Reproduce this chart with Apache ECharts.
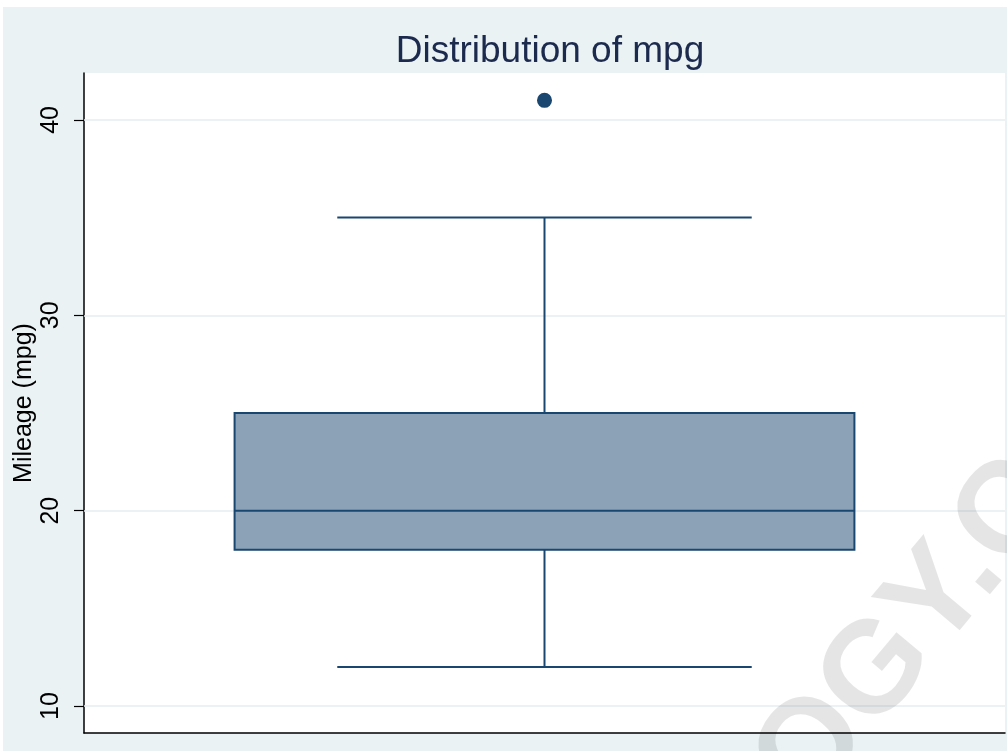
<!DOCTYPE html>
<html>
<head>
<meta charset="utf-8">
<script src="https://cdn.jsdelivr.net/npm/echarts@6/dist/echarts.min.js"></script>
<style>
  html, body { margin: 0; padding: 0; background: #ffffff; }
  #main { width: 1007px; height: 751px; }
</style>
</head>
<body>
<div id="main"></div>
<script>
// box plot summary
var categories = ['mpg'];
var whiskerLow = [12];
var q1 = [18];
var median = [20];
var q3 = [25];
var whiskerHigh = [35];
var outliers = [[0, 41]];
var yTicks = [10, 20, 30, 40];

var navy = '#1a476f';
var boxFill = '#8ca2b7';
var gridColor = '#e6eef1';

var boxData = categories.map(function (c, i) {
    return [i, whiskerLow[i], q1[i], median[i], q3[i], whiskerHigh[i]];
});

function renderBox(params, api) {
    var i = api.value(0);
    var band = api.size([1, 0])[0];
    var lo = api.coord([i, api.value(1)]);
    var b = api.coord([i, api.value(2)]);
    var m = api.coord([i, api.value(3)]);
    var t = api.coord([i, api.value(4)]);
    var hi = api.coord([i, api.value(5)]);
    var x = lo[0];
    var bw = band * 0.673;   // box width
    var cw = band * 0.45;    // whisker cap width
    var ls = { stroke: navy, lineWidth: 2 };
    return {
        type: 'group',
        children: [
            { type: 'line', shape: { x1: x, y1: hi[1], x2: x, y2: t[1] }, style: ls },
            { type: 'line', shape: { x1: x, y1: b[1], x2: x, y2: lo[1] }, style: ls },
            { type: 'line', shape: { x1: x - cw / 2, y1: hi[1], x2: x + cw / 2, y2: hi[1] }, style: ls },
            { type: 'line', shape: { x1: x - cw / 2, y1: lo[1], x2: x + cw / 2, y2: lo[1] }, style: ls },
            { type: 'rect', shape: { x: x - bw / 2, y: t[1], width: bw, height: b[1] - t[1] },
              style: { fill: boxFill, stroke: navy, lineWidth: 2 } },
            { type: 'line', shape: { x1: x - bw / 2, y1: m[1], x2: x + bw / 2, y2: m[1] }, style: ls }
        ]
    };
}

var myChart = echarts.init(document.getElementById('main'));

var option = {
    animation: false,
    backgroundColor: '#ffffff',
    textStyle: { fontFamily: 'Liberation Sans, Arial, sans-serif' },
    title: {
        text: 'Distribution of mpg',
        left: 545,
        textAlign: 'center',
        top: 28,
        textStyle: { fontSize: 37, fontWeight: 'normal', color: '#1c2a4e', fontFamily: 'Liberation Sans' }
    },
    graphic: [
        {
            type: 'rect', z: -10, silent: true,
            shape: { x: 3, y: 7, width: 1004, height: 744 },
            style: { fill: '#eaf2f3' }
        },
        {
            // faint watermark over the lower right corner
            type: 'text', z: 100, silent: true,
            x: 830, y: 830,
            rotation: 50 * Math.PI / 180,
            style: {
                text: 'OGY.C',
                fontSize: 130,
                fontWeight: 'bold',
                fontFamily: 'Liberation Sans',
                fill: 'rgba(0,0,0,0.1)',
                align: 'left',
                verticalAlign: 'bottom'
            }
        }
    ],
    grid: {
        show: true,
        left: 84, right: 2, top: 73, bottom: 18,
        outerBoundsMode: 'none',
        containLabel: false,
        backgroundColor: '#ffffff',
        borderWidth: 0
    },
    xAxis: {
        type: 'category',
        data: categories,
        axisLine: { lineStyle: { color: '#000000', width: 1.5 } },
        axisTick: { show: false },
        axisLabel: { show: false },
        splitLine: { show: false }
    },
    yAxis: {
        type: 'value',
        min: 8.62,
        max: 42.4,
        name: 'Mileage (mpg)',
        nameLocation: 'middle',
        nameRotate: 90,
        nameGap: 47,
        nameMoveOverlap: false,
        nameTextStyle: { fontSize: 25, color: '#000000', fontFamily: 'Liberation Sans' },
        axisLine: { show: true, lineStyle: { color: '#000000', width: 1.5 } },
        axisTick: { show: true, length: 10, customValues: yTicks, lineStyle: { color: '#000000', width: 1.2 } },
        axisLabel: { rotate: 90, margin: 20, fontSize: 25, color: '#000000', customValues: yTicks },
        splitLine: { show: false }
    },
    series: [
        {
            type: 'custom',
            renderItem: renderBox,
            encode: { x: 0, y: [1, 2, 3, 4, 5] },
            data: boxData,
            z: 3,
            markLine: {
                silent: true,
                symbol: 'none',
                label: { show: false },
                lineStyle: { color: gridColor, width: 1.5, type: 'solid' },
                z: 1,
                data: yTicks.map(function (v) { return { yAxis: v }; })
            }
        },
        {
            type: 'scatter',
            data: outliers,
            symbol: 'circle',
            symbolSize: 15,
            itemStyle: { color: navy, opacity: 1 },
            z: 4
        }
    ]
};

myChart.setOption(option);
</script>
</body>
</html>
